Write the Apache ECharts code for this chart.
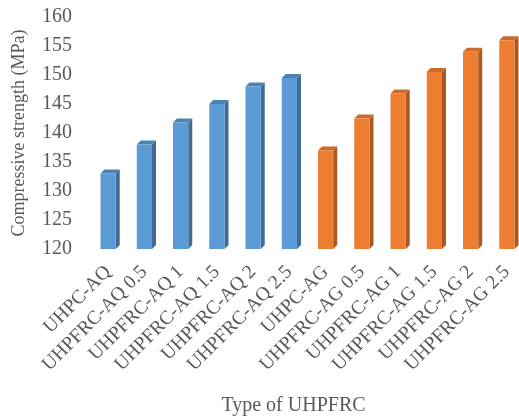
<!DOCTYPE html>
<html>
<head>
<meta charset="utf-8">
<script src="https://cdn.jsdelivr.net/npm/echarts@6/dist/echarts.min.js"></script>
<style>
  html, body { margin: 0; padding: 0; background: #ffffff; }
  #chart { width: 519px; height: 418px; }
</style>
</head>
<body>
<div id="chart"></div>
<script>
// Mix designs along the category axis
const categories = [
  'UHPC-AQ', 'UHPFRC-AQ 0.5', 'UHPFRC-AQ 1', 'UHPFRC-AQ 1.5', 'UHPFRC-AQ 2', 'UHPFRC-AQ 2.5',
  'UHPC-AG', 'UHPFRC-AG 0.5', 'UHPFRC-AG 1', 'UHPFRC-AG 1.5', 'UHPFRC-AG 2', 'UHPFRC-AG 2.5'
];
// Compressive strength (MPa) per group
const strengthAQ = [133, 138, 141.8, 145, 148, 149.5];
const strengthAG = [137, 142.5, 146.8, 150.5, 154, 156];
// Value axis range
const yMin = 120;
const yMax = 160;
const yStep = 5;

const FONT = "'Liberation Serif', 'Times New Roman', serif";
const palettes = [
  { front: '#5B9BD5', side: '#3F6C97', top: '#4A82B8' },
  { front: '#ED7D31', side: '#A95A24', top: '#CC6A29' }
];

const barData = [];
strengthAQ.forEach((v, i) => barData.push([i, v, 0]));
strengthAG.forEach((v, i) => barData.push([strengthAQ.length + i, v, 1]));

// Prism-style column: front face, shaded side face and top face
function renderItem(params, api) {
  const idx = api.value(0);
  const val = api.value(1);
  const pal = palettes[api.value(2)];
  const top = api.coord([idx, val]);
  const base = api.coord([idx, yMin]);
  const band = api.size([1, 0])[0];
  const w = band * 0.42;
  const dx = 4, dy = 4;
  const x0 = top[0] - w / 2;
  const x1 = x0 + w;
  return {
    type: 'group',
    children: [
      {
        type: 'polygon',
        shape: { points: [[x1, top[1]], [x1 + dx, top[1] - dy], [x1 + dx, base[1] - dy], [x1, base[1]]] },
        style: { fill: pal.side }
      },
      {
        type: 'polygon',
        shape: { points: [[x0, top[1]], [x0 + dx, top[1] - dy], [x1 + dx, top[1] - dy], [x1, top[1]]] },
        style: { fill: pal.top }
      },
      {
        type: 'rect',
        shape: { x: x0, y: top[1], width: w, height: base[1] - top[1] },
        style: { fill: pal.front }
      }
    ]
  };
}

const chart = echarts.init(document.getElementById('chart'), null, { renderer: 'canvas' });
chart.setOption({
  backgroundColor: '#ffffff',
  animation: false,
  grid: { left: 90, right: -6, top: 17, bottom: 169, containLabel: false, outerBoundsMode: 'none' },
  xAxis: {
    type: 'category',
    data: categories,
    axisLine: { show: false },
    axisTick: { show: false },
    axisLabel: {
      interval: 0,
      rotate: 45,
      margin: 20,
      color: '#595959',
      fontFamily: FONT,
      fontSize: 19.5
    },
    name: 'Type of UHPFRC',
    nameLocation: 'middle',
    nameGap: 147,
    nameTextStyle: { color: '#595959', fontFamily: FONT, fontSize: 20, padding: [0, 28, 0, 0] }
  },
  yAxis: {
    type: 'value',
    min: yMin,
    max: yMax,
    interval: yStep,
    axisLine: { show: false },
    axisTick: { show: false },
    splitLine: { show: false },
    axisLabel: { color: '#595959', fontFamily: FONT, fontSize: 20, margin: 18 },
    name: 'Compressive strength (MPa)',
    nameLocation: 'middle',
    nameRotate: 90,
    nameGap: 62,
    nameTextStyle: { color: '#595959', fontFamily: FONT, fontSize: 18 }
  },
  series: [{
    type: 'custom',
    renderItem: renderItem,
    encode: { x: 0, y: 1 },
    data: barData
  }]
});
</script>
</body>
</html>
